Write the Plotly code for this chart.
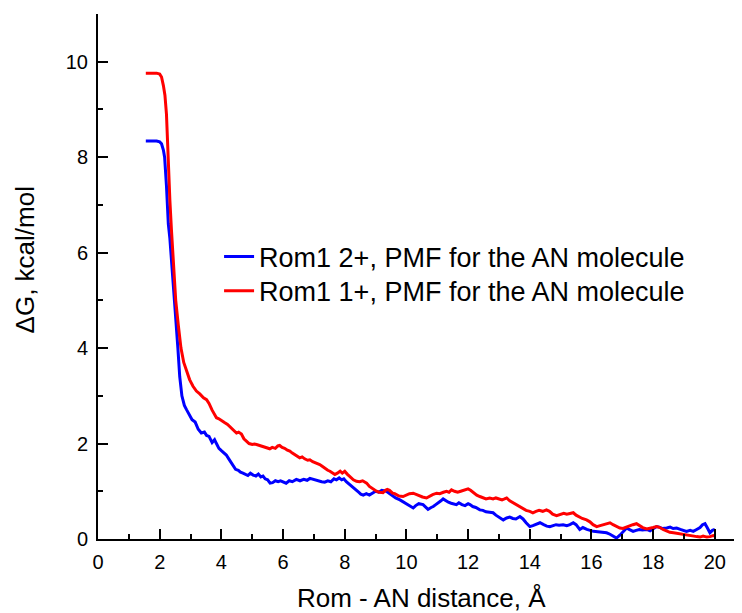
import plotly.graph_objects as go

blue_x = [1.55, 1.7, 1.9, 2.0, 2.06, 2.12, 2.16, 2.22, 2.28, 2.33, 2.4, 2.5, 2.59, 2.65, 2.72, 2.8, 2.87, 2.95,
          3.05, 3.15, 3.25, 3.35, 3.45, 3.52, 3.6, 3.7, 3.78, 3.84, 3.92, 4.0, 4.08, 4.16, 4.24, 4.3, 4.38, 4.46,
          4.55, 4.62, 4.7, 4.78, 4.86, 4.94, 5.03, 5.12, 5.2, 5.28, 5.35, 5.42, 5.5, 5.58, 5.66, 5.75, 5.84, 5.92,
          6.0, 6.1, 6.2, 6.3, 6.43, 6.55, 6.67, 6.78, 6.87, 6.96, 7.05, 7.15, 7.25, 7.35, 7.45, 7.55, 7.65, 7.73,
          7.82, 7.9, 7.97, 8.05, 8.15, 8.27, 8.36, 8.45, 8.52, 8.6, 8.7, 8.8, 8.92, 9.0, 9.1, 9.2, 9.35, 9.45,
          9.55, 9.65, 9.79, 9.9, 10.0, 10.1, 10.22, 10.3, 10.4, 10.54, 10.62, 10.7, 10.8, 10.87, 10.95, 11.05,
          11.12, 11.19, 11.28, 11.36, 11.45, 11.55, 11.62, 11.7, 11.8, 11.9, 12.0, 12.06, 12.15, 12.25, 12.38,
          12.48, 12.58, 12.7, 12.81, 12.9, 13.0, 13.07, 13.14, 13.25, 13.35, 13.45, 13.55, 13.68, 13.78, 13.88,
          14.0, 14.1, 14.2, 14.33, 14.45, 14.55, 14.65, 14.75, 14.85, 14.95, 15.08, 15.2, 15.3, 15.41, 15.5,
          15.62, 15.72, 15.85, 15.95, 16.06, 16.2, 16.35, 16.49, 16.6, 16.7, 16.81, 16.92, 17.0, 17.08, 17.14,
          17.22, 17.35, 17.45, 17.55, 17.65, 17.79, 17.9, 18.0, 18.11, 18.2, 18.3, 18.44, 18.55, 18.65, 18.76,
          18.88, 19.0, 19.08, 19.2, 19.3, 19.41, 19.52, 19.6, 19.68, 19.75, 19.84, 19.92, 20.0]
blue_y = [8.34, 8.34, 8.34, 8.32, 8.28, 8.15, 8.0, 7.4, 6.6, 6.3, 5.6, 4.8, 4.0, 3.4, 3.0, 2.8, 2.71, 2.62,
          2.5, 2.45, 2.3, 2.22, 2.24, 2.17, 2.15, 2.02, 2.08, 2.0, 1.9, 1.85, 1.8, 1.76, 1.68, 1.62, 1.52, 1.46,
          1.44, 1.4, 1.38, 1.36, 1.33, 1.38, 1.34, 1.32, 1.36, 1.3, 1.32, 1.26, 1.24, 1.17, 1.18, 1.22, 1.2, 1.22,
          1.2, 1.17, 1.22, 1.2, 1.25, 1.22, 1.25, 1.23, 1.27, 1.25, 1.24, 1.22, 1.2, 1.19, 1.22, 1.2, 1.26, 1.24,
          1.28, 1.24, 1.26, 1.2, 1.14, 1.07, 1.02, 0.98, 0.94, 0.92, 0.95, 0.92, 0.97, 1.0, 0.98, 1.02, 1.0, 0.95,
          0.9, 0.86, 0.82, 0.78, 0.74, 0.7, 0.65, 0.7, 0.74, 0.72, 0.66, 0.62, 0.66, 0.68, 0.72, 0.76,
          0.8, 0.84, 0.8, 0.77, 0.75, 0.74, 0.72, 0.76, 0.72, 0.7, 0.74, 0.72, 0.68, 0.66, 0.61,
          0.6, 0.57, 0.56, 0.55, 0.5, 0.46, 0.44, 0.40, 0.44, 0.46, 0.43, 0.42, 0.47, 0.42, 0.34,
          0.26, 0.28, 0.3, 0.34, 0.3, 0.27, 0.26, 0.28, 0.3, 0.29, 0.30, 0.28, 0.3, 0.34, 0.3,
          0.20, 0.24, 0.2, 0.18, 0.16, 0.15, 0.14, 0.13, 0.1, 0.07, 0.02, 0.08, 0.14, 0.2, 0.23,
          0.2, 0.16, 0.18, 0.2, 0.19, 0.20, 0.17, 0.22, 0.26, 0.25, 0.22, 0.23, 0.25, 0.22, 0.23,
          0.2, 0.18, 0.16, 0.18, 0.16, 0.2, 0.24, 0.3, 0.32, 0.24, 0.13, 0.18, 0.2]

red_x = [1.55, 1.7, 1.9, 2.0, 2.06, 2.12, 2.17, 2.22, 2.27, 2.33, 2.38, 2.45, 2.52, 2.6, 2.69, 2.78, 2.88, 2.97,
         3.08, 3.19, 3.3, 3.42, 3.52, 3.6, 3.7, 3.78, 3.84, 3.92, 4.0, 4.1, 4.2, 4.27, 4.35, 4.42, 4.49, 4.56,
         4.65, 4.73, 4.81, 4.9, 5.0, 5.07, 5.14, 5.24, 5.34, 5.45, 5.57, 5.65, 5.75, 5.83, 5.89, 5.97, 6.05,
         6.14, 6.22, 6.3, 6.4, 6.48, 6.54, 6.62, 6.7, 6.8, 6.87, 6.96, 7.05, 7.12, 7.19, 7.28, 7.36, 7.45, 7.52,
         7.6, 7.68, 7.76, 7.85, 7.92, 8.0, 8.08, 8.18, 8.28, 8.38, 8.48, 8.58, 8.66, 8.71, 8.8, 8.9, 9.03, 9.12,
         9.24, 9.32, 9.38, 9.45, 9.55, 9.62, 9.68, 9.76, 9.89, 9.98, 10.1, 10.22, 10.32, 10.42, 10.52, 10.65,
         10.75, 10.85, 10.98, 11.08, 11.2, 11.3, 11.38, 11.46, 11.56, 11.66, 11.76, 11.88, 12.0, 12.08, 12.18,
         12.28, 12.38, 12.48, 12.58, 12.7, 12.81, 12.9, 13.0, 13.1, 13.18, 13.25, 13.35, 13.45, 13.57, 13.68,
         13.78, 13.88, 14.0, 14.1, 14.2, 14.3, 14.42, 14.54, 14.64, 14.74, 14.87, 14.98, 15.1, 15.2, 15.3,
         15.41, 15.5, 15.6, 15.7, 15.84, 15.95, 16.05, 16.17, 16.28, 16.4, 16.5, 16.6, 16.7, 16.8, 16.92,
         17.02, 17.12, 17.22, 17.34, 17.46, 17.56, 17.66, 17.79, 17.9, 18.0, 18.11, 18.22, 18.32, 18.44,
         18.54, 18.66, 18.78, 18.88, 18.98, 19.08, 19.2, 19.32, 19.41, 19.52, 19.62, 19.74, 19.84, 19.95, 20.0]
red_y = [9.76, 9.76, 9.76, 9.74, 9.68, 9.5, 9.3, 8.9, 7.96, 7.1, 6.49, 5.7, 5.0, 4.5, 4.0, 3.7, 3.5, 3.34,
         3.2, 3.10, 3.04, 2.96, 2.92, 2.84, 2.7, 2.6, 2.54, 2.52, 2.48, 2.44, 2.4, 2.36, 2.3, 2.26, 2.22, 2.24,
         2.2, 2.1, 2.05, 2.0, 1.98, 1.99, 1.98, 1.96, 1.95, 1.92, 1.89, 1.92, 1.9, 1.95, 1.96, 1.92, 1.9,
         1.86, 1.84, 1.8, 1.76, 1.72, 1.70, 1.72, 1.68, 1.65, 1.66, 1.62, 1.6, 1.58, 1.56, 1.52, 1.48, 1.44, 1.42,
         1.38, 1.35, 1.38, 1.42, 1.38, 1.42, 1.36, 1.3, 1.24, 1.21, 1.2, 1.22, 1.18, 1.17, 1.1, 1.05, 1.0, 0.98,
         0.97, 1.02, 1.04, 1.02, 0.96, 0.95, 0.93, 0.9, 0.89, 0.92, 0.95, 0.96, 0.93, 0.9, 0.88, 0.86,
         0.9, 0.93, 0.96, 0.95, 0.98, 1.0, 0.98, 1.03, 1.0, 0.98, 1.0, 1.03, 1.05, 1.02, 0.96,
         0.92, 0.89, 0.86, 0.84, 0.86, 0.84, 0.86, 0.84, 0.82, 0.84, 0.86, 0.8, 0.76, 0.72, 0.68,
         0.64, 0.6, 0.58, 0.55, 0.58, 0.6, 0.58, 0.61, 0.58, 0.52, 0.49, 0.52, 0.54, 0.52, 0.54,
         0.55, 0.5, 0.46, 0.43, 0.40, 0.36, 0.3, 0.26, 0.28, 0.3, 0.32, 0.34, 0.3, 0.26, 0.23,
         0.22, 0.25, 0.28, 0.3, 0.32, 0.28, 0.24, 0.21, 0.22, 0.24, 0.26, 0.24, 0.2, 0.16,
         0.14, 0.13, 0.12, 0.1, 0.09, 0.08, 0.08, 0.06, 0.05, 0.04, 0.06, 0.04, 0.05, 0.07, 0.06]

series_names = ["Rom1 2+, PMF for the AN molecule", "Rom1 1+, PMF for the AN molecule"]
x_title = "Rom - AN distance, Å"
y_title = "ΔG, kcal/mol"

FONT = "Liberation Sans, Arial, sans-serif"

fig = go.Figure()
fig.add_trace(go.Scatter(x=blue_x, y=blue_y, mode="lines", name=series_names[0], legend="legend",
                         line=dict(color="#0000FF", width=3)))
fig.add_trace(go.Scatter(x=red_x, y=red_y, mode="lines", name=series_names[1], legend="legend2",
                         line=dict(color="#FF0000", width=3)))

axis_common = dict(showline=True, linecolor="black", linewidth=2, showgrid=False, zeroline=False,
                   ticks="inside", ticklen=10, tickwidth=2, tickcolor="black",
                   tickfont=dict(family=FONT, size=20, color="black"),
                   minor=dict(ticks="inside", ticklen=5, tickwidth=2, tickcolor="black", dtick=1, showgrid=False))

fig.update_xaxes(range=[0, 20.88], tick0=0, dtick=2, ticklabelstandoff=4, **axis_common)
fig.update_yaxes(range=[0, 11], tick0=0, dtick=2, tickvals=[0, 2, 4, 6, 8, 10], ticklabelstandoff=4, **axis_common)

fig.add_annotation(text=x_title, xref="paper", yref="paper", x=0.503, y=-0.112, xanchor="center",
                   yanchor="middle", showarrow=False, font=dict(family=FONT, size=26, color="black"))
fig.add_annotation(text=y_title, xref="paper", yref="paper", x=-0.113, y=0.531, xanchor="center",
                   yanchor="middle", textangle=-90, showarrow=False,
                   font=dict(family=FONT, size=26, color="black"))

legend_style = dict(xanchor="left", yanchor="middle", bgcolor="rgba(0,0,0,0)",
                    font=dict(family=FONT, size=27, color="black"))

# the page body adds an 8px offset, so the figure is 8px smaller and margins shifted accordingly
fig.update_layout(
    width=734, height=605,
    margin=dict(l=90, r=0, t=6, b=74),
    plot_bgcolor="white", paper_bgcolor="white",
    showlegend=True,
    legend=dict(x=0.188, y=0.537, **legend_style),
    legend2=dict(x=0.188, y=0.472, **legend_style),
)

fig.write_html("out.html")
